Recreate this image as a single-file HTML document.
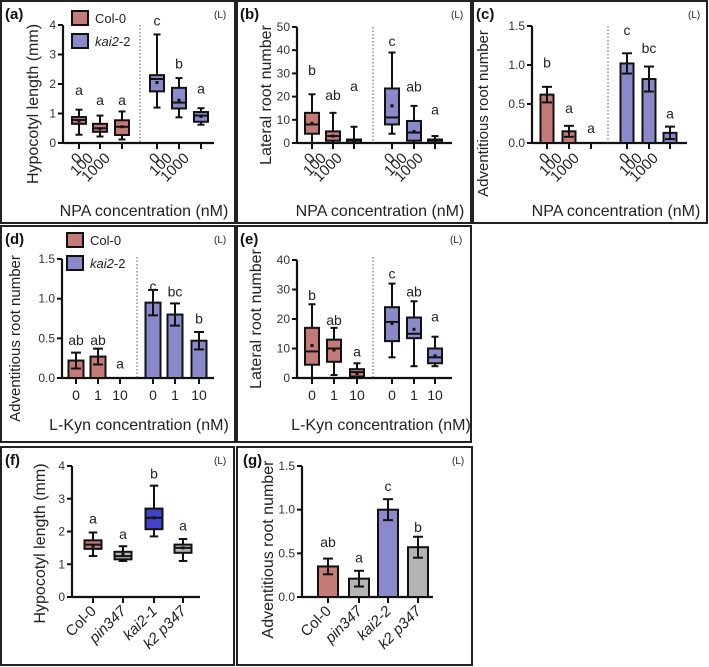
<!DOCTYPE html>
<html><head><meta charset="utf-8"><style>
body{margin:0;background:#fff}
svg{display:block;font-family:"Liberation Sans",Arial,sans-serif}
</style></head><body>
<svg id="fig" width="709" height="667" viewBox="0 0 709 667" xmlns="http://www.w3.org/2000/svg"></svg>
<script>
// ---- Data arrays ----
// (a) hypocotyl NPA: [whiskLo, q1, median, q3, whiskHi, mean]
const aCats = ["0","100","1000","0","100","1000"];
const aBoxes = [[0.28,0.65,0.78,0.88,1.13,0.75],[0.22,0.38,0.5,0.65,0.93,0.48],[0.12,0.27,0.55,0.77,1.07,0.55],
                [1.2,1.75,2.17,2.3,3.68,2.05],[0.87,1.17,1.37,1.87,2.2,1.45],[0.62,0.72,0.93,1.05,1.18,0.9]];
const aLetters = ["a","a","a","c","b","a"];
const aLetterY = [1.8,1.45,1.45,4.15,2.7,1.85];
const aTicks = [0,1,2,3,4];
// (b) lateral root NPA
const bCats = ["0","100","1000","0","100","1000"];
const bBoxes = [[0,4,8,13,21,8.5],[0,1,3,5,13,3],[0,0,1,1.5,7,1],[4,8,11,23.5,39,16],[0,1,4.5,9.5,16,5],[0,0,1,1.5,3,1]];
const bLetters = ["b","ab","a","c","ab","a"];
const bLetterY = [31.5,20.7,24.5,44,24.4,14.4];
const bTicks = [0,10,20,30,40,50];
// (c) adventitious NPA: mean, err
const cCats = ["0","100","1000","0","100","1000"];
const cMeans = [0.62,0.15,0,1.02,0.82,0.13];
const cErrs = [0.1,0.07,0,0.13,0.16,0.08];
const cLetters = ["b","a","a","c","bc","a"];
const cLetterY = [1.03,0.45,0.19,1.45,1.22,0.38];
const cTicks = [0,0.5,1.0,1.5];
// (d) adventitious L-Kyn
const dCats = ["0","1","10","0","1","10"];
const dMeans = [0.22,0.27,0,0.95,0.8,0.47];
const dErrs = [0.1,0.1,0,0.16,0.14,0.11];
const dLetters = ["ab","ab","a","c","bc","b"];
const dLetterY = [0.48,0.48,0.18,1.16,1.09,0.75];
const dTicks = [0,0.5,1.0,1.5];
// (e) lateral root L-Kyn
const eCats = ["0","1","10","0","1","10"];
const eBoxes = [[0,4.5,9,17,25,11],[1,5.5,10,13,17,9.5],[0,0.5,2,3,5,1.5],[7,12.5,19,24,32,18.5],[4,13.5,15,20.5,26,16.5],[4,5,7,10,14,7.5]];
const eLetters = ["b","ab","a","c","ab","a"];
const eLetterY = [28.2,19.7,9,35.5,29.3,20.8];
const eTicks = [0,10,20,30,40];
// (f) hypocotyl genotypes
const fCats = ["Col-0","pin347","kai2-1","k2 p347"];
const fBoxes = [[1.25,1.47,1.6,1.73,1.97,1.55],[1.1,1.15,1.25,1.38,1.55,1.3],[1.85,2.07,2.42,2.7,3.4,2.42],[1.1,1.35,1.5,1.6,1.77,1.5]];
const fLetters = ["a","a","b","a"];
const fLetterY = [2.39,1.93,3.77,2.19];
const fTicks = [0,1,2,3,4];
// (g) adventitious genotypes
const gCats = ["Col-0","pin347","kai2-2","k2 p347"];
const gMeans = [0.35,0.21,1.0,0.57];
const gErrs = [0.09,0.09,0.12,0.12];
const gLetters = ["ab","a","c","b"];
const gLetterY = [0.63,0.45,1.27,0.8];
const gTicks = [0,0.5,1.0,1.5];

const RED="#c47b78", PUR="#8a8acb", DBLUE="#4343c9", GRAY="#b4b4b4";
const NS="http://www.w3.org/2000/svg";
const svg=document.getElementById('fig');
function el(tag,attrs,parent,text){const e=document.createElementNS(NS,tag);for(const k in attrs)e.setAttribute(k,attrs[k]);if(text!==undefined)e.textContent=text;(parent||svg).appendChild(e);return e;}

function frame(x,y,w,h,name){
  const r=el('rect',{x:x,y:y,width:w,height:h,fill:'none',stroke:'#222','stroke-width':2});
  
  
}
function panelLabel(x,y,t,lx){
  const a=el('text',{x:x,y:y,'font-size':15,'font-weight':'bold',fill:'#111'},svg,t);
  
  
  const b=el('text',{x:lx,y:y-1,'font-size':10,fill:'#222'},svg,'(L)');
  
  
}
function axes(p){
  const sy=v=>p.y0-(v/p.vmax)*(p.y0-p.yTop);
  const g=el('g',{});
  
  
  el('line',{x1:p.x0,y1:p.yTop,x2:p.x0,y2:p.y0,stroke:'#111','stroke-width':2.2},g);
  el('line',{x1:p.x0,y1:p.y0,x2:p.xEnd,y2:p.y0,stroke:'#111','stroke-width':2.2},g);
  p.ticks.forEach(t=>{
    const y=sy(t);
    el('line',{x1:p.x0-5,y1:y,x2:p.x0,y2:y,stroke:'#111','stroke-width':2},g);
    const tl=el('text',{x:p.x0-7,y:y+4,'font-size':12,'text-anchor':'end',fill:'#333'},g,p.fmt?t.toFixed(1):String(t));
    
    
  });
  const yt=el('text',{x:0,y:0,'font-size':p.ytFs||16,'text-anchor':'middle',fill:'#222',transform:`translate(${p.ytX},${(p.yTop+p.y0)/2+p.ytDy}) rotate(-90)`},g,p.ytitle);
  
  
  return sy;
}
function catTicks(xs,cats,y0,rot,italic){
  xs.forEach((x,i)=>{
    el('line',{x1:x,y1:y0,x2:x,y2:y0+6,stroke:'#111','stroke-width':2});
    let t;
    if(rot){
      const off=rot==='f'?4:4-5*(cats[i].length-1);
      t=el('text',{x:0,y:0,'font-size':15,'text-anchor':'end',fill:'#222','font-style':(italic&&i>0)?'italic':'normal',transform:`translate(${x+off},${y0+(rot==='f'?15:16)}) rotate(-45)`},svg,cats[i]);
    } else {
      t=el('text',{x:x,y:y0+22,'font-size':14,'text-anchor':'middle',fill:'#222'},svg,cats[i]);
    }
    
    
  });
}
function letters(xs,ls,ly,sy){
  xs.forEach((x,i)=>{
    const t=el('text',{x:x,y:sy(ly[i])+5,'font-size':14,'text-anchor':'middle',fill:'#222'},svg,ls[i]);
    
    
  });
}
function boxes(xs,data,sy,colors,w,name){
  data.forEach((d,i)=>{
    const x=xs[i];
    const g=el('g',{});
    
    
    el('line',{x1:x,y1:sy(d[0]),x2:x,y2:sy(d[4]),stroke:'#111','stroke-width':2},g);
    el('line',{x1:x-w/4,y1:sy(d[0]),x2:x+w/4,y2:sy(d[0]),stroke:'#111','stroke-width':2},g);
    el('line',{x1:x-w/4,y1:sy(d[4]),x2:x+w/4,y2:sy(d[4]),stroke:'#111','stroke-width':2},g);
    el('rect',{x:x-w/2,y:sy(d[3]),width:w,height:Math.max(sy(d[1])-sy(d[3]),1),fill:colors[i],stroke:'#111','stroke-width':2},g);
    el('line',{x1:x-w/2,y1:sy(d[2]),x2:x+w/2,y2:sy(d[2]),stroke:'#111','stroke-width':2},g);
    el('rect',{x:x-1.5,y:sy(d[5])-1.5,width:3,height:3,fill:'#111'},g);
  });
}
function bars(xs,means,errs,sy,colors,w,name){
  means.forEach((m,i)=>{
    const x=xs[i];
    const g=el('g',{});
    
    
    if(m>0){
      el('rect',{x:x-w/2,y:sy(m),width:w,height:sy(0)-sy(m),fill:colors[i],stroke:'#111','stroke-width':2},g);
      el('line',{x1:x,y1:sy(m-errs[i]),x2:x,y2:sy(m+errs[i]),stroke:'#111','stroke-width':2},g);
      el('line',{x1:x-5,y1:sy(m-errs[i]),x2:x+5,y2:sy(m-errs[i]),stroke:'#111','stroke-width':2},g);
      el('line',{x1:x-5,y1:sy(m+errs[i]),x2:x+5,y2:sy(m+errs[i]),stroke:'#111','stroke-width':2},g);
    }
  });
}
function divider(x,y1,y2){
  const l=el('line',{x1:x,y1:y1,x2:x,y2:y2,stroke:'#555','stroke-width':1,'stroke-dasharray':'1.5,2'});
  
  
}
function xtitle(x,y,t){
  const e=el('text',{x:x,y:y,'font-size':16,'text-anchor':'middle',fill:'#222'},svg,t);
  
  
}
function legend(x,y){
  const g=el('g',{});
  
  
  const e1=el('rect',{x:x,y:y,width:16,height:14,fill:RED,stroke:'#111','stroke-width':2},g);
  
  
  el('text',{x:x+23,y:y+12,'font-size':13,fill:'#222'},g,'Col-0');
  const e2=el('rect',{x:x,y:y+23,width:16,height:14,fill:PUR,stroke:'#111','stroke-width':2},g);
  
  
  const t=el('text',{x:x+23,y:y+35,'font-size':13,fill:'#222'},g);
  el('tspan',{'font-style':'italic'},t,'kai2');t.appendChild(document.createTextNode('-2'));
}
const grp=[RED,RED,RED,PUR,PUR,PUR];

frame(1,1,234,222,'panel-a');frame(237,1,234,222,'panel-b');frame(473,1,234,222,'panel-c');
frame(1,226,234,216,'panel-d');frame(237,226,234,216,'panel-e');
frame(1,447,233,218,'panel-f');frame(237,447,235,218,'panel-g');

// (a)
panelLabel(5,19,'(a)',214);
let sy=axes({name:'a',x0:63,y0:143,yTop:25,vmax:4,ticks:aTicks,xEnd:214,ytitle:'Hypocotyl length (mm)',ytX:38,ytDy:20});
let xs=[79,100,122,157,179,201];
boxes(xs,aBoxes,sy,grp,14,'a');divider(140,25,143);catTicks(xs,aCats,143,'r');letters(xs,aLetters,aLetterY,sy);
xtitle(144,216,'NPA concentration (nM)');legend(72,11);
// (b)
panelLabel(240,19,'(b)',451);
sy=axes({name:'b',x0:297,y0:143,yTop:27,vmax:50,ticks:bTicks,xEnd:452,ytitle:'Lateral root number',ytX:271,ytDy:10});
xs=[312,333,354,392,414,435];
boxes(xs,bBoxes,sy,grp,14,'b');divider(373,27,143);catTicks(xs,bCats,143,'r');letters(xs,bLetters,bLetterY,sy);
xtitle(380,216,'NPA concentration (nM)');
// (c)
panelLabel(476,19,'(c)',688);
sy=axes({name:'c',x0:532,y0:143,yTop:26,vmax:1.5,ticks:cTicks,xEnd:687,ytitle:'Adventitious root number',ytX:488,ytDy:29,ytFs:15,fmt:1});
xs=[547,569,591,627,649,670];
bars(xs,cMeans,cErrs,sy,grp,13,'c');divider(608,26,143);catTicks(xs,cCats,143,'r');letters(xs,cLetters,cLetterY,sy);
xtitle(616,216,'NPA concentration (nM)');
// (d)
panelLabel(5,244,'(d)',214);
sy=axes({name:'d',x0:62,y0:378,yTop:259,vmax:1.5,ticks:dTicks,xEnd:214,ytitle:'Adventitious root number',ytX:20,ytDy:20,ytFs:15,fmt:1});
xs=[76,98,120,153,175,199];
bars(xs,dMeans,dErrs,sy,grp,15,'d');divider(137,257,378);catTicks(xs,dCats,378,null);letters(xs,dLetters,dLetterY,sy);
xtitle(139,430,'L-Kyn concentration (nM)');legend(67,233);
// (e)
panelLabel(240,244,'(e)',450);
sy=axes({name:'e',x0:297,y0:378,yTop:260,vmax:40,ticks:eTicks,xEnd:452,ytitle:'Lateral root number',ytX:261,ytDy:0});
xs=[312,334,357,392,414,435];
boxes(xs,eBoxes,sy,grp,14,'e');divider(373,257,378);catTicks(xs,eCats,378,null);letters(xs,eLetters,eLetterY,sy);
xtitle(381,430,'L-Kyn concentration (nM)');
// (f)
panelLabel(5,465,'(f)',214);
sy=axes({name:'f',x0:72,y0:597,yTop:466,vmax:4,ticks:fTicks,xEnd:200,ytitle:'Hypocotyl length (mm)',ytX:45,ytDy:12});
xs=[93,123,154,183];
boxes(xs,fBoxes,sy,[RED,GRAY,DBLUE,GRAY],17,'f');catTicks(xs,fCats,597,'f',true);letters(xs,fLetters,fLetterY,sy);
// (g)
panelLabel(243,465,'(g)',452);
sy=axes({name:'g',x0:302,y0:597,yTop:466,vmax:1.5,ticks:gTicks,xEnd:433,ytitle:'Adventitious root number',ytX:273,ytDy:18,fmt:1});
xs=[328,359,388,418];
bars(xs,gMeans,gErrs,sy,[RED,GRAY,PUR,GRAY],20,'g');catTicks(xs,gCats,597,'f',true);letters(xs,gLetters,gLetterY,sy);
</script>
</body></html>
